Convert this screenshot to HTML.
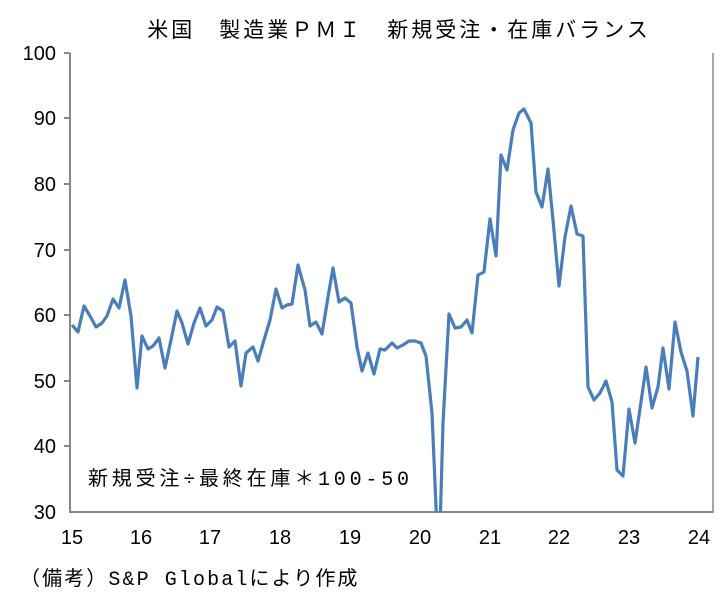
<!DOCTYPE html>
<html><head><meta charset="utf-8"><style>
body{margin:0;background:#fff;}
svg text{font-family:"Liberation Sans","Noto Sans CJK JP",sans-serif;fill:#000;}
svg text.m{font-family:"Liberation Mono","Noto Sans CJK JP",monospace;}
</style></head><body>
<svg width="728" height="608" xmlns="http://www.w3.org/2000/svg">
<defs><clipPath id="c"><rect x="70" y="40" width="643" height="472"/></clipPath></defs>
<text class="m" x="399" y="37" font-size="21" letter-spacing="3" text-anchor="middle">米国　製造業ＰＭＩ　新規受注・在庫バランス</text>
<line x1="70" y1="53" x2="70" y2="513" stroke="#888" stroke-width="2"/>
<line x1="70" y1="512" x2="713" y2="512" stroke="#888" stroke-width="2"/>
<line x1="713" y1="53" x2="713" y2="513" stroke="#888" stroke-width="1.5"/>
<g stroke="#888" stroke-width="2">
<line x1="64" y1="53" x2="70" y2="53"/><line x1="64" y1="118" x2="70" y2="118"/><line x1="64" y1="184" x2="70" y2="184"/><line x1="64" y1="250" x2="70" y2="250"/><line x1="64" y1="315" x2="70" y2="315"/><line x1="64" y1="381" x2="70" y2="381"/><line x1="64" y1="446" x2="70" y2="446"/>
</g>
<g font-size="20" text-anchor="end">
<text x="56" y="60">100</text><text x="56" y="125">90</text><text x="56" y="191">80</text><text x="56" y="257">70</text><text x="56" y="322">60</text><text x="56" y="388">50</text><text x="56" y="453">40</text><text x="56" y="519">30</text>
</g>
<g font-size="20" text-anchor="middle">
<text x="72" y="544">15</text><text x="141" y="544">16</text><text x="210" y="544">17</text><text x="280" y="544">18</text><text x="350" y="544">19</text><text x="420" y="544">20</text><text x="490" y="544">21</text><text x="559" y="544">22</text><text x="629" y="544">23</text><text x="699" y="544">24</text>
</g>
<polyline clip-path="url(#c)" fill="none" stroke="#4a7ebb" stroke-width="3.2" stroke-linejoin="round" points="72,325 78,332 84,306 90,316 96,327 102,323 107,316 113,299 119,308 125,280 131,316 137,388 142,336 148,349 153,346 159,338 165,368 171,340 177,311 182,323 188,344 194,323 200,308 206,326 212,320 217,307 223,311 229,347 235,341 241,386 246,353 253,347 258,361 264,340 270,320 276,289 282,308 287,305 292,304 298,265 305,290 310,326 316,322 322,334 328,297 333,268 339,302 345,298 351,303 357,347 362,371 368,353 374,374 380,349 385,350 392,343 397,348 403,345 409,341 415,341 421,343 426,356 432,413 437,530 440,530 443,423 449,314 455,328 461,327 467,320 472,333 478,275 484,272 490,219 496,256 501,155 507,170 513,130 519,113 524,109 531,123 536,192 542,207 548,169 553,220 559,286 565,237 571,206 577,234 583,236 588,387 594,400 600,393 606,381 612,402 617,470 623,476 629,409 635,443 641,402 646,367 652,408 658,387 663,348 669,389 675,322 681,352 687,371 693,416 698,357"/>
<text class="m" x="88" y="485" font-size="20" letter-spacing="3.8">新規受注÷最終在庫＊100-50</text>
<text class="m" x="20" y="585" font-size="20" letter-spacing="2.1">（備考）S&amp;P Globalにより作成</text>
</svg>
</body></html>
